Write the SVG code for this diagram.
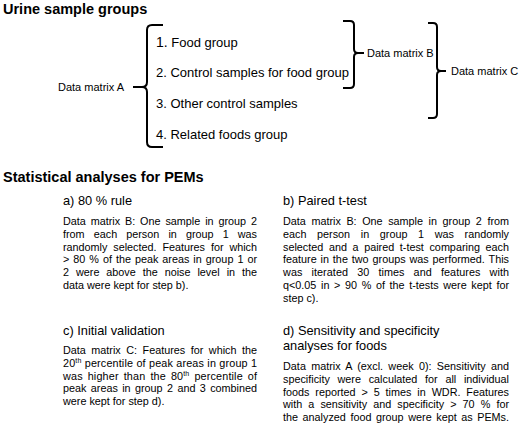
<svg xmlns="http://www.w3.org/2000/svg" width="520" height="428" viewBox="0 0 520 428">
<style>
text{font-family:"Liberation Sans",Arial,sans-serif;fill:#000}
.h{font-size:14.5px;font-weight:bold}
.it{font-size:13px}
.lb{font-size:11px}
.sh{font-size:12.8px}
.p{font-size:10.8px}
.br{fill:none;stroke:#000;stroke-width:2;stroke-linecap:butt;stroke-linejoin:round}
</style>
<rect width="520" height="428" fill="#fff"/>
<text class="h" x="3" y="14">Urine sample groups</text>
<g id="groups">
<text class="it" x="156" y="47"><tspan font-size="14">1.</tspan> Food group</text>
<text class="it" x="156" y="77">2. Control samples for food group</text>
<text class="it" x="156" y="108">3. Other control samples</text>
<text class="it" x="156" y="139">4. Related foods group</text>
</g>
<g id="matrixA"><text class="lb" x="58" y="91">Data matrix A</text></g>
<g id="matrixB"><text class="lb" x="367" y="57">Data matrix B</text></g>
<g id="matrixC"><text class="lb" x="451" y="75">Data matrix C</text></g>
<g id="connectors">
<path class="br" d="M163,25 H152 Q147,25 147,30 V82 Q147,87 142,87 H133 M142,87 Q147,87 147,92 V142 Q147,147 152,147 H163"/>
<path class="br" d="M343,21 H350 Q354,21 354,25 V49 Q354,53 358,53 H364 M358,53 Q354,53 354,57 V84 Q354,88 350,88 H343"/>
<path class="br" d="M428,23 H433 Q437,23 437,27 V67 Q437,71 441,71 H446 M441,71 Q437,71 437,75 V114 Q437,118 433,118 H428"/>
</g>
<text class="h" x="3" y="182">Statistical analyses for PEMs</text>
<g id="stepA">
<text class="sh" x="63" y="205">a) 80 % rule</text>
<text class="p" x="63" y="225" word-spacing="1.9" textLength="194" lengthAdjust="spacing">Data matrix B: One sample in group 2</text>
<text class="p" x="63" y="237.8" word-spacing="6.1" textLength="194" lengthAdjust="spacing">from each person in group 1 was</text>
<text class="p" x="63" y="250.6" word-spacing="2.9" textLength="194" lengthAdjust="spacing">randomly selected. Features for which</text>
<text class="p" x="63" y="263.4" word-spacing="1.0" textLength="194" lengthAdjust="spacing">&gt; 80 % of the peak areas in group 1 or</text>
<text class="p" x="63" y="276.2" word-spacing="4.0" textLength="194" lengthAdjust="spacing">2 were above the noise level in the</text>
<text class="p" x="63" y="289">data were kept for step b).</text>
</g>
<g id="stepB">
<text class="sh" x="283" y="205">b) Paired t-test</text>
<text class="p" x="283" y="225" word-spacing="2.6" textLength="226" lengthAdjust="spacing">Data matrix B: One sample in group 2 from</text>
<text class="p" x="283" y="237.8" word-spacing="7.6" textLength="226" lengthAdjust="spacing">each person in group 1 was randomly</text>
<text class="p" x="283" y="250.6" word-spacing="2.6" textLength="226" lengthAdjust="spacing">selected and a paired t-test comparing each</text>
<text class="p" x="283" y="263.4" word-spacing="0.9" textLength="226" lengthAdjust="spacing">feature in the two groups was performed. This</text>
<text class="p" x="283" y="276.2" word-spacing="6.0" textLength="226" lengthAdjust="spacing">was iterated 30 times and features with</text>
<text class="p" x="283" y="289" word-spacing="1.65" textLength="226" lengthAdjust="spacing">q&lt;0.05 in &gt; 90 % of the t-tests were kept for</text>
<text class="p" x="283" y="301.8">step c).</text>
</g>
<g id="stepC">
<text class="sh" x="63" y="335">c) Initial validation</text>
<text class="p" x="63" y="354" word-spacing="2.5" textLength="194" lengthAdjust="spacing">Data matrix C: Features for which the</text>
<text class="p" x="63" y="366.8" word-spacing="0.1" textLength="194" lengthAdjust="spacing">20<tspan font-size="7" dy="-4">th</tspan><tspan dy="4"> percentile of peak areas in group 1</tspan></text>
<text class="p" x="63" y="379.6" word-spacing="1.85" textLength="194" lengthAdjust="spacing">was higher than the 80<tspan font-size="7" dy="-4">th</tspan><tspan dy="4"> percentile of</tspan></text>
<text class="p" x="63" y="392.4" word-spacing="1.4" textLength="194" lengthAdjust="spacing">peak areas in group 2 and 3 combined</text>
<text class="p" x="63" y="405.2">were kept for step d).</text>
</g>
<g id="stepD">
<text class="sh" x="283" y="335">d) Sensitivity and specificity</text>
<text class="sh" x="283" y="350">analyses for foods</text>
<text class="p" x="283" y="370" word-spacing="2.2" textLength="226" lengthAdjust="spacing">Data matrix A (excl. week 0): Sensitivity and</text>
<text class="p" x="283" y="382.8" word-spacing="4.7" textLength="226" lengthAdjust="spacing">specificity were calculated for all individual</text>
<text class="p" x="283" y="395.6" word-spacing="2.9" textLength="226" lengthAdjust="spacing">foods reported &gt; 5 times in WDR. Features</text>
<text class="p" x="283" y="408.4" word-spacing="3.1" textLength="226" lengthAdjust="spacing">with a sensitivity and specificity &gt; 70 % for</text>
<text class="p" x="283" y="421.2" word-spacing="1.6" textLength="226" lengthAdjust="spacing">the analyzed food group were kept as PEMs.</text>
</g>
</svg>
